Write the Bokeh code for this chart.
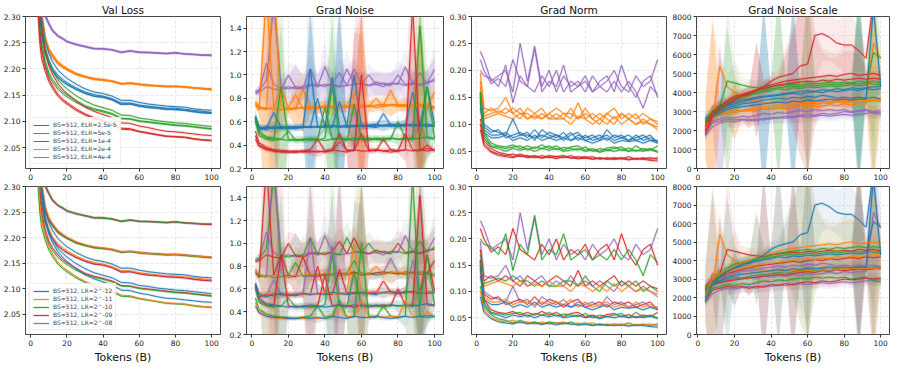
from bokeh.plotting import figure
from bokeh.layouts import column, row
from bokeh.models import FixedTicker, PrintfTickFormatter, Range1d, Legend, LegendItem, Title
from bokeh.embed import file_html
from bokeh.resources import INLINE

BLUE, ORANGE, GREEN, RED, PURPLE = "#1f77b4", "#ff7f0e", "#2ca02c", "#d62728", "#9467bd"

TITLES = ["Val Loss", "Grad Noise", "Grad Norm", "Grad Noise Scale"]
ELR_LABELS = ["BS=512, ELR=2.5e-5", "BS=512, ELR=5e-5", "BS=512, ELR=1e-4",
              "BS=512, ELR=2e-4", "BS=512, ELR=4e-4"]
ELR_COLORS = [RED, GREEN, BLUE, ORANGE, PURPLE]
LR_LABELS = ["BS=512, LR=2^-12", "BS=512, LR=2^-11", "BS=512, LR=2^-10",
             "BS=512, LR=2^-09", "BS=512, LR=2^-08"]
LR_COLORS = [BLUE, ORANGE, GREEN, RED, PURPLE]
X_LABEL = "Tokens (B)"

# run -> ELR group / LR group
RUN_ELR = [4, 4, 4, 3, 3, 3, 3, 2, 2, 2, 2, 1, 1, 1, 0, 0, 0]
RUN_LR = [4, 3, 2, 4, 3, 2, 1, 4, 3, 1, 0, 3, 2, 0, 2, 1, 0]

X_TICKS = [0, 20, 40, 60, 80, 100]

# ---------------- Val loss ----------------
X_VL = [3, 4, 5, 6, 8, 10, 12, 15, 18, 20, 25, 30, 35, 40, 45, 50, 55, 60, 65, 70, 75, 80, 85, 90, 95, 100]
VAL_LOSS = [
    [2.60, 2.50, 2.42, 2.37, 2.30, 2.285, 2.272, 2.262, 2.256, 2.252, 2.246, 2.242, 2.238, 2.238, 2.236, 2.231, 2.234, 2.231, 2.231, 2.230, 2.229, 2.230, 2.229, 2.227, 2.226, 2.226],
    [2.60, 2.50, 2.42, 2.37, 2.30, 2.286, 2.273, 2.263, 2.257, 2.252, 2.247, 2.243, 2.239, 2.239, 2.236, 2.232, 2.234, 2.232, 2.231, 2.231, 2.229, 2.231, 2.229, 2.228, 2.226, 2.225],
    [2.60, 2.51, 2.43, 2.38, 2.305, 2.288, 2.275, 2.264, 2.258, 2.253, 2.247, 2.243, 2.239, 2.238, 2.237, 2.232, 2.235, 2.232, 2.232, 2.230, 2.230, 2.231, 2.228, 2.228, 2.227, 2.227],
    [2.55, 2.42, 2.34, 2.30, 2.255, 2.236, 2.226, 2.212, 2.204, 2.200, 2.191, 2.185, 2.181, 2.179, 2.177, 2.172, 2.173, 2.171, 2.169, 2.168, 2.167, 2.167, 2.166, 2.164, 2.163, 2.161],
    [2.55, 2.42, 2.34, 2.30, 2.254, 2.235, 2.225, 2.211, 2.203, 2.199, 2.190, 2.185, 2.180, 2.179, 2.176, 2.171, 2.173, 2.170, 2.169, 2.168, 2.166, 2.167, 2.165, 2.164, 2.162, 2.161],
    [2.54, 2.41, 2.33, 2.29, 2.250, 2.232, 2.222, 2.209, 2.202, 2.198, 2.189, 2.184, 2.180, 2.178, 2.176, 2.171, 2.172, 2.170, 2.168, 2.167, 2.166, 2.166, 2.165, 2.163, 2.162, 2.160],
    [2.58, 2.45, 2.36, 2.31, 2.262, 2.240, 2.228, 2.214, 2.206, 2.201, 2.192, 2.186, 2.182, 2.180, 2.177, 2.172, 2.173, 2.171, 2.169, 2.168, 2.167, 2.167, 2.166, 2.164, 2.163, 2.162],
    [2.49, 2.37, 2.30, 2.265, 2.230, 2.211, 2.197, 2.183, 2.175, 2.170, 2.161, 2.153, 2.148, 2.146, 2.141, 2.133, 2.133, 2.129, 2.127, 2.125, 2.123, 2.123, 2.121, 2.119, 2.117, 2.116],
    [2.49, 2.37, 2.30, 2.266, 2.231, 2.212, 2.198, 2.184, 2.175, 2.171, 2.161, 2.154, 2.148, 2.146, 2.141, 2.132, 2.133, 2.129, 2.126, 2.125, 2.123, 2.122, 2.121, 2.118, 2.116, 2.115],
    [2.51, 2.39, 2.32, 2.275, 2.238, 2.217, 2.202, 2.188, 2.179, 2.174, 2.164, 2.156, 2.151, 2.148, 2.143, 2.135, 2.135, 2.131, 2.129, 2.127, 2.125, 2.125, 2.123, 2.121, 2.119, 2.117],
    [2.55, 2.43, 2.35, 2.30, 2.255, 2.230, 2.214, 2.198, 2.188, 2.182, 2.171, 2.162, 2.156, 2.153, 2.148, 2.140, 2.140, 2.136, 2.133, 2.131, 2.129, 2.128, 2.127, 2.124, 2.122, 2.121],
    [2.47, 2.34, 2.28, 2.25, 2.215, 2.193, 2.180, 2.166, 2.156, 2.151, 2.140, 2.130, 2.124, 2.120, 2.115, 2.106, 2.105, 2.101, 2.099, 2.097, 2.095, 2.093, 2.092, 2.090, 2.088, 2.086],
    [2.46, 2.33, 2.27, 2.24, 2.208, 2.188, 2.175, 2.161, 2.152, 2.147, 2.136, 2.128, 2.122, 2.118, 2.113, 2.105, 2.104, 2.100, 2.098, 2.096, 2.094, 2.092, 2.091, 2.089, 2.087, 2.085],
    [2.52, 2.40, 2.33, 2.29, 2.240, 2.213, 2.196, 2.179, 2.168, 2.162, 2.149, 2.139, 2.131, 2.126, 2.121, 2.112, 2.111, 2.106, 2.104, 2.101, 2.099, 2.097, 2.096, 2.094, 2.092, 2.090],
    [2.44, 2.31, 2.25, 2.22, 2.195, 2.176, 2.163, 2.148, 2.138, 2.133, 2.121, 2.112, 2.105, 2.100, 2.094, 2.085, 2.084, 2.080, 2.077, 2.074, 2.071, 2.070, 2.069, 2.066, 2.064, 2.063],
    [2.46, 2.33, 2.27, 2.235, 2.203, 2.182, 2.168, 2.152, 2.141, 2.136, 2.124, 2.114, 2.107, 2.102, 2.096, 2.087, 2.086, 2.081, 2.078, 2.075, 2.072, 2.071, 2.070, 2.067, 2.065, 2.064],
    [2.52, 2.39, 2.32, 2.28, 2.232, 2.206, 2.190, 2.172, 2.160, 2.153, 2.139, 2.127, 2.119, 2.113, 2.107, 2.097, 2.096, 2.091, 2.088, 2.084, 2.081, 2.080, 2.078, 2.076, 2.074, 2.073],
]

# ---------------- Grad noise / grad norm ----------------
X_G = [2, 4, 8, 12, 16, 20, 24, 28, 32, 36, 40, 44, 48, 52, 56, 60, 64, 68, 72, 76, 80, 84, 88, 92, 96, 100]
GRAD_NOISE = [
    [0.85, 0.86, 1.10, 0.92, 0.88, 0.90, 0.88, 0.90, 0.92, 0.90, 1.07, 0.92, 0.90, 0.91, 0.92, 0.93, 0.91, 0.92, 0.90, 0.93, 0.92, 1.07, 0.93, 0.92, 0.93, 1.05],
    [0.84, 0.85, 0.90, 0.88, 0.87, 1.00, 0.89, 0.88, 0.91, 0.92, 0.90, 0.93, 1.02, 0.91, 1.05, 0.92, 0.91, 0.94, 0.92, 0.91, 1.00, 0.92, 0.93, 0.91, 0.94, 0.95],
    [0.86, 0.87, 0.95, 1.60, 0.89, 0.88, 0.90, 0.89, 1.05, 0.90, 0.92, 0.91, 0.90, 1.05, 0.93, 0.92, 1.00, 0.92, 0.93, 0.92, 0.93, 0.91, 0.92, 1.02, 0.92, 0.97],
    [0.77, 0.72, 0.70, 1.80, 0.74, 0.70, 0.71, 0.72, 0.71, 0.72, 0.72, 0.73, 0.73, 0.72, 0.74, 0.74, 0.73, 0.74, 0.74, 0.87, 0.74, 0.73, 0.74, 0.75, 0.74, 0.73],
    [0.74, 0.70, 1.70, 0.72, 0.90, 0.72, 0.71, 0.88, 0.72, 0.71, 0.73, 0.72, 0.74, 0.73, 0.75, 0.72, 0.73, 0.74, 0.75, 0.74, 0.73, 0.75, 0.74, 0.73, 0.74, 0.85],
    [0.75, 0.71, 0.72, 0.70, 0.71, 0.72, 0.83, 0.71, 0.72, 0.73, 0.72, 0.73, 0.72, 0.74, 0.85, 0.73, 0.74, 0.72, 0.73, 0.75, 0.74, 0.73, 0.75, 0.74, 0.73, 0.72],
    [0.76, 0.73, 0.71, 0.72, 0.70, 0.71, 0.72, 0.72, 0.73, 0.72, 0.74, 0.72, 0.73, 0.73, 0.72, 0.74, 0.73, 0.80, 0.73, 0.74, 0.75, 0.74, 0.73, 0.74, 0.72, 0.71],
    [0.64, 0.56, 0.54, 0.68, 0.55, 0.55, 0.56, 0.55, 1.05, 0.56, 0.55, 0.98, 0.56, 0.57, 0.56, 0.57, 0.56, 0.57, 0.57, 0.56, 0.57, 0.56, 0.85, 0.57, 0.58, 0.57],
    [0.62, 0.53, 0.55, 0.54, 0.56, 0.55, 0.54, 0.56, 0.55, 0.80, 0.56, 0.55, 0.77, 0.56, 0.57, 0.56, 0.57, 0.56, 0.67, 0.57, 0.56, 0.58, 0.57, 0.56, 0.90, 0.58],
    [0.63, 0.54, 0.56, 0.55, 0.54, 0.56, 0.55, 0.55, 0.56, 0.55, 0.57, 0.56, 0.55, 0.57, 1.00, 0.56, 0.57, 0.58, 0.56, 0.57, 0.58, 0.57, 0.56, 0.58, 0.57, 0.56],
    [0.65, 0.55, 0.53, 0.56, 0.55, 0.54, 0.55, 0.56, 0.55, 0.56, 0.55, 0.57, 0.56, 0.55, 0.56, 0.57, 0.56, 0.55, 0.57, 0.58, 0.56, 0.57, 0.58, 0.57, 0.56, 0.57],
    [0.62, 0.50, 0.46, 0.45, 0.90, 0.45, 0.44, 0.45, 0.44, 0.45, 0.72, 0.45, 0.46, 0.45, 0.44, 0.46, 0.45, 0.45, 0.46, 0.45, 0.60, 0.46, 0.45, 1.42, 0.46, 0.45],
    [0.60, 0.48, 0.45, 0.44, 0.45, 0.52, 0.44, 0.45, 0.45, 0.44, 0.46, 0.90, 0.45, 0.44, 0.75, 0.45, 0.46, 0.45, 0.44, 0.46, 0.45, 0.45, 0.46, 0.45, 0.90, 0.46],
    [0.64, 0.52, 0.47, 0.46, 0.45, 0.44, 0.45, 0.44, 0.46, 0.45, 0.44, 0.45, 0.46, 0.45, 0.46, 0.45, 0.44, 0.46, 0.45, 0.46, 0.45, 0.46, 0.45, 0.46, 0.47, 0.46],
    [0.52, 0.42, 0.38, 0.36, 0.35, 0.35, 0.34, 0.35, 0.36, 0.45, 0.35, 0.36, 0.50, 0.35, 0.36, 1.00, 0.36, 0.35, 0.45, 0.36, 0.35, 0.36, 1.60, 0.36, 0.37, 0.36],
    [0.48, 0.40, 0.37, 0.35, 0.34, 0.34, 0.35, 0.34, 0.35, 0.34, 0.35, 0.35, 0.43, 0.36, 0.35, 0.50, 0.35, 0.36, 0.35, 0.36, 0.35, 0.50, 0.36, 0.35, 0.40, 0.35],
    [0.45, 0.39, 0.36, 0.35, 0.35, 0.34, 0.34, 0.35, 0.34, 0.35, 0.34, 0.36, 0.35, 0.34, 0.36, 0.35, 0.35, 0.36, 0.35, 0.34, 0.35, 0.36, 0.35, 0.36, 0.35, 0.36],
]
# band half-widths per ELR group (red, green, blue, orange, purple)
GRAD_NOISE_SPREAD = [
    [0.05, 0.03, 0.02, 0.02, 0.02, 0.02, 0.02, 0.02, 0.03, 0.05, 0.02, 0.03, 0.05, 0.03, 1.0, 1.0, 0.03, 0.02, 0.03, 0.02, 0.02, 0.1, 1.2, 0.3, 0.05, 0.02],
    [0.05, 0.03, 0.03, 0.03, 1.0, 0.03, 0.03, 0.03, 0.03, 0.03, 0.1, 1.0, 0.03, 0.03, 0.1, 0.03, 0.03, 0.03, 0.03, 0.03, 0.05, 0.03, 0.03, 1.2, 0.2, 0.03],
    [0.05, 0.03, 0.03, 0.05, 0.03, 0.03, 0.03, 0.03, 1.0, 0.1, 0.03, 0.1, 1.0, 0.03, 0.2, 0.03, 0.03, 0.03, 0.05, 0.03, 0.03, 0.05, 0.15, 0.03, 0.2, 0.03],
    [0.05, 0.05, 1.2, 1.2, 0.15, 0.05, 0.15, 0.2, 0.05, 0.05, 0.05, 0.08, 0.05, 0.05, 0.1, 0.8, 0.05, 0.05, 0.05, 0.1, 0.05, 0.05, 0.05, 0.8, 0.05, 0.15],
    [0.03, 0.05, 0.15, 1.0, 0.08, 0.1, 0.2, 0.1, 0.15, 0.1, 0.2, 0.1, 0.12, 0.15, 0.1, 0.1, 0.1, 0.1, 0.1, 0.1, 0.12, 0.15, 0.1, 0.1, 0.1, 0.2],
]

GRAD_NORM = [
    [0.235, 0.22, 0.18, 0.19, 0.20, 0.16, 0.25, 0.18, 0.24, 0.17, 0.20, 0.16, 0.19, 0.17, 0.18, 0.16, 0.19, 0.17, 0.18, 0.20, 0.17, 0.16, 0.19, 0.17, 0.18, 0.22],
    [0.22, 0.20, 0.175, 0.185, 0.17, 0.22, 0.18, 0.17, 0.16, 0.19, 0.17, 0.20, 0.16, 0.18, 0.17, 0.19, 0.16, 0.18, 0.19, 0.16, 0.21, 0.17, 0.15, 0.18, 0.19, 0.15],
    [0.20, 0.19, 0.185, 0.17, 0.21, 0.14, 0.19, 0.17, 0.245, 0.16, 0.18, 0.17, 0.21, 0.16, 0.17, 0.18, 0.16, 0.17, 0.16, 0.18, 0.16, 0.18, 0.16, 0.13, 0.17, 0.155],
    [0.195, 0.13, 0.125, 0.13, 0.15, 0.12, 0.13, 0.11, 0.12, 0.13, 0.11, 0.12, 0.11, 0.13, 0.11, 0.12, 0.11, 0.12, 0.11, 0.10, 0.12, 0.11, 0.10, 0.11, 0.10, 0.09],
    [0.18, 0.12, 0.13, 0.12, 0.13, 0.12, 0.11, 0.13, 0.12, 0.11, 0.12, 0.13, 0.12, 0.11, 0.14, 0.11, 0.12, 0.11, 0.12, 0.13, 0.11, 0.12, 0.11, 0.12, 0.11, 0.105],
    [0.17, 0.115, 0.12, 0.125, 0.12, 0.13, 0.12, 0.12, 0.11, 0.12, 0.11, 0.11, 0.12, 0.12, 0.11, 0.13, 0.11, 0.10, 0.12, 0.11, 0.12, 0.11, 0.12, 0.10, 0.11, 0.10],
    [0.16, 0.11, 0.115, 0.12, 0.115, 0.11, 0.12, 0.11, 0.115, 0.11, 0.12, 0.11, 0.11, 0.10, 0.115, 0.11, 0.10, 0.11, 0.10, 0.115, 0.10, 0.11, 0.10, 0.105, 0.10, 0.095],
    [0.16, 0.10, 0.09, 0.085, 0.08, 0.11, 0.08, 0.085, 0.07, 0.09, 0.08, 0.075, 0.085, 0.07, 0.08, 0.075, 0.08, 0.07, 0.09, 0.075, 0.08, 0.07, 0.075, 0.08, 0.07, 0.07],
    [0.15, 0.095, 0.085, 0.09, 0.075, 0.08, 0.085, 0.075, 0.09, 0.075, 0.085, 0.08, 0.07, 0.08, 0.085, 0.07, 0.075, 0.08, 0.07, 0.08, 0.075, 0.08, 0.07, 0.075, 0.08, 0.065],
    [0.14, 0.09, 0.08, 0.08, 0.085, 0.075, 0.08, 0.08, 0.075, 0.08, 0.075, 0.08, 0.075, 0.085, 0.07, 0.08, 0.07, 0.075, 0.08, 0.07, 0.075, 0.07, 0.08, 0.07, 0.075, 0.068],
    [0.13, 0.085, 0.075, 0.075, 0.08, 0.07, 0.075, 0.07, 0.08, 0.07, 0.075, 0.07, 0.075, 0.07, 0.075, 0.07, 0.065, 0.07, 0.075, 0.065, 0.07, 0.068, 0.07, 0.065, 0.07, 0.065],
    [0.16, 0.085, 0.065, 0.06, 0.058, 0.062, 0.055, 0.06, 0.055, 0.062, 0.055, 0.06, 0.052, 0.058, 0.06, 0.052, 0.055, 0.05, 0.056, 0.058, 0.052, 0.056, 0.05, 0.055, 0.052, 0.06],
    [0.155, 0.08, 0.06, 0.058, 0.055, 0.058, 0.06, 0.052, 0.058, 0.055, 0.06, 0.053, 0.057, 0.055, 0.052, 0.058, 0.05, 0.055, 0.052, 0.055, 0.058, 0.05, 0.06, 0.052, 0.055, 0.05],
    [0.145, 0.075, 0.058, 0.055, 0.05, 0.055, 0.052, 0.055, 0.05, 0.055, 0.052, 0.055, 0.05, 0.052, 0.055, 0.05, 0.052, 0.048, 0.052, 0.05, 0.053, 0.05, 0.052, 0.05, 0.053, 0.048],
    [0.11, 0.07, 0.055, 0.048, 0.045, 0.04, 0.045, 0.04, 0.042, 0.038, 0.042, 0.04, 0.038, 0.042, 0.037, 0.04, 0.036, 0.038, 0.035, 0.038, 0.036, 0.04, 0.035, 0.038, 0.035, 0.038],
    [0.10, 0.065, 0.05, 0.045, 0.042, 0.045, 0.04, 0.042, 0.038, 0.042, 0.038, 0.04, 0.042, 0.037, 0.04, 0.038, 0.04, 0.035, 0.038, 0.036, 0.038, 0.035, 0.037, 0.036, 0.038, 0.035],
    [0.09, 0.06, 0.048, 0.042, 0.04, 0.038, 0.042, 0.038, 0.04, 0.037, 0.04, 0.036, 0.04, 0.038, 0.036, 0.037, 0.035, 0.037, 0.036, 0.035, 0.036, 0.034, 0.036, 0.035, 0.033, 0.032],
]

# ---------------- Grad noise scale ----------------
X_GNS = [4, 8, 12, 16, 20, 24, 28, 32, 36, 40, 44, 48, 52, 56, 60, 64, 68, 72, 76, 80, 84, 88, 92, 96, 100]
GNS = [
    [1700, 2200, 2400, 2500, 2450, 2550, 2600, 2500, 2650, 2600, 2700, 2650, 2700, 2750, 2700, 2750, 2800, 2750, 2800, 2850, 2800, 2850, 2900, 2950, 2950],
    [1800, 2400, 2500, 2600, 2550, 2600, 2500, 2600, 2550, 2700, 2650, 2750, 2700, 2800, 2850, 2800, 2900, 2850, 2900, 3000, 2950, 3000, 3050, 3000, 3050],
    [1900, 2500, 2600, 2700, 2650, 2750, 2700, 2800, 2900, 2850, 2950, 2900, 3000, 3050, 3000, 3100, 3050, 3100, 3050, 3100, 3000, 3050, 3100, 2900, 2850],
    [2000, 3300, 3000, 2900, 3000, 3050, 3100, 3050, 3150, 3100, 3200, 3150, 3250, 3200, 3300, 3250, 3300, 3350, 3300, 3400, 3350, 3400, 3400, 6600, 5800],
    [2200, 2700, 2800, 2900, 2950, 3000, 3050, 3100, 3150, 3200, 3250, 3200, 3300, 3350, 3400, 3350, 3450, 3400, 3500, 3450, 3500, 3550, 3500, 3550, 3600],
    [2300, 2800, 2900, 3000, 3100, 3050, 3150, 3200, 3250, 3300, 3350, 3300, 3400, 3450, 3500, 3450, 3550, 3500, 3600, 3550, 3600, 3650, 3600, 3650, 3700],
    [2100, 2600, 5400, 4300, 4000, 3800, 3700, 3600, 3500, 3450, 3500, 3400, 3450, 3500, 3450, 3500, 3550, 3500, 3550, 3600, 3550, 3600, 3550, 3600, 3500],
    [2500, 2800, 3000, 3200, 3300, 3400, 3450, 3500, 3600, 3650, 3700, 3650, 3750, 3700, 3800, 3750, 3850, 3800, 3700, 3750, 3700, 3750, 3700, 3750, 3650],
    [2400, 2900, 3100, 3300, 3400, 3500, 3600, 3700, 3750, 3800, 3850, 3900, 3950, 3900, 4000, 4050, 4000, 4100, 4050, 4100, 4150, 4100, 4200, 4150, 4200],
    [2600, 3000, 3200, 3350, 3500, 3600, 3650, 3750, 3800, 3850, 3900, 3950, 4000, 4050, 4100, 4050, 4150, 4100, 4200, 4150, 4250, 4200, 4250, 4300, 4300],
    [2300, 2700, 2900, 3100, 3200, 3250, 3300, 3350, 3400, 3450, 3500, 3450, 3550, 3500, 3600, 3550, 3600, 3650, 3600, 3650, 3600, 3650, 3650, 8500, 4300],
    [2600, 3000, 3300, 4600, 4500, 4400, 4300, 4250, 4200, 4300, 4350, 4400, 4450, 4400, 4500, 4450, 4500, 4550, 4500, 4550, 4500, 4600, 4550, 4600, 4500],
    [2500, 2900, 3200, 3500, 3700, 3800, 3900, 4000, 4100, 4200, 4250, 4300, 4350, 4300, 4400, 4350, 4400, 4450, 4400, 4450, 4500, 4450, 4500, 4450, 4400],
    [2400, 2800, 3100, 3400, 3600, 3700, 3850, 3950, 4050, 4100, 4200, 4150, 4250, 4200, 4300, 4250, 4300, 4350, 4300, 4350, 4400, 4350, 4400, 6100, 5800],
    [2000, 2800, 3200, 3600, 3800, 3900, 4000, 4100, 4200, 4300, 4400, 4450, 4500, 4550, 4600, 4550, 4650, 4600, 4700, 4650, 4700, 4750, 4700, 4750, 4700],
    [2200, 3000, 3300, 3500, 3700, 3850, 4000, 4150, 4300, 4400, 4500, 4600, 4650, 4700, 4750, 4800, 4850, 4900, 4850, 4950, 5000, 4900, 4950, 5000, 4900],
    [1800, 2700, 3100, 3400, 3600, 3800, 3900, 4100, 4300, 4600, 4800, 4900, 5000, 5400, 5500, 7000, 7100, 6900, 6600, 6500, 6500, 6200, 5800, 8800, 8800],
]
GNS_SPREAD = [
    [300, 300, 300, 300, 300, 300, 300, 2500, 400, 400, 400, 1500, 2500, 4000, 5000, 2500, 1500, 1200, 1200, 1500, 1500, 1200, 500, 400, 400],
    [300, 300, 400, 4000, 1200, 400, 400, 400, 400, 400, 5000, 400, 400, 400, 5000, 400, 400, 400, 400, 400, 400, 5000, 400, 5000, 600],
    [300, 400, 400, 400, 400, 400, 400, 400, 5000, 400, 400, 400, 5000, 400, 600, 400, 400, 400, 400, 400, 400, 5000, 400, 500, 400],
    [1500, 5000, 600, 500, 1500, 500, 1000, 400, 400, 400, 400, 400, 400, 400, 400, 400, 400, 400, 400, 400, 400, 400, 400, 5000, 800],
    [300, 300, 4000, 400, 300, 300, 300, 300, 300, 300, 300, 300, 300, 400, 300, 300, 300, 300, 300, 300, 300, 300, 300, 300, 300],
]

PANELS = [
    dict(x=X_VL, ys=VAL_LOSS, spread=None, yr=(2.01, 2.30), xr=(-2.9, 104.9),
         yticks=[2.05, 2.10, 2.15, 2.20, 2.25, 2.30], fmt="%.2f"),
    dict(x=X_G, ys=GRAD_NOISE, spread=GRAD_NOISE_SPREAD, yr=(0.2, 1.5), xr=(-2.9, 104.9),
         yticks=[0.2, 0.4, 0.6, 0.8, 1.0, 1.2, 1.4], fmt="%.1f", alpha=0.10),
    dict(x=X_G, ys=GRAD_NORM, spread=None, yr=(0.018, 0.30), xr=(-2.9, 104.9),
         yticks=[0.05, 0.10, 0.15, 0.20, 0.25, 0.30], fmt="%.2f"),
    dict(x=X_GNS, ys=GNS, spread=GNS_SPREAD, yr=(0, 8000), xr=(-0.8, 104.8),
         yticks=[0, 1000, 2000, 3000, 4000, 5000, 6000, 7000, 8000], fmt="%d", alpha=0.09),
]

for pn in PANELS:
    for y in pn["ys"]:
        assert len(y) == len(pn["x"]), (len(y), len(pn["x"]))
    if pn["spread"]:
        for s in pn["spread"]:
            assert len(s) == len(pn["x"])

WIDTHS = [223, 223, 223, 228]
RIGHT = [3, 3, 3, 8]
FONT = "DejaVu Sans"


def make_fig(r, c):
    pn = PANELS[c]
    bottom = r == 1
    p = figure(width=WIDTHS[c], height=181 if bottom else 182,
               x_range=Range1d(*pn["xr"]), y_range=Range1d(*pn["yr"]),
               output_backend="svg", toolbar_location=None,
               min_border_left=23, min_border_right=RIGHT[c],
               min_border_top=4 if bottom else 0, min_border_bottom=0)
    if not bottom:
        p.title.text = TITLES[c]
        p.title.text_font = FONT
        p.title.text_font_size = "10.5px"
        p.title.text_font_style = "normal"
        p.title.align = "center"
        p.title.standoff = 2
        p.title.text_color = "#111111"
    p.background_fill_color = "white"
    p.border_fill_color = "white"
    p.outline_line_color = "#333333"
    p.outline_line_width = 0.9
    for ax in (p.xaxis[0], p.yaxis[0]):
        ax.axis_line_color = None
        ax.major_tick_line_color = "#333333"
        ax.major_tick_out = 3
        ax.major_tick_in = 0
        ax.minor_tick_line_color = None
        ax.major_label_text_font = FONT
        ax.major_label_text_font_size = "7.5px"
        ax.major_label_text_color = "#222222"
        ax.major_label_standoff = 2
        ax.axis_label = None
    p.xaxis.ticker = FixedTicker(ticks=X_TICKS)
    p.yaxis.ticker = FixedTicker(ticks=pn["yticks"])
    p.yaxis.formatter = PrintfTickFormatter(format=pn["fmt"])
    p.grid.grid_line_color = "#dcdcdc"
    p.grid.grid_line_dash = "3 2"
    p.grid.grid_line_width = 0.7
    if bottom:
        t = Title(text=X_LABEL, align="center", text_font=FONT, text_font_size="11px",
                  text_font_style="normal", text_color="#111111", standoff=0, offset=0)
        p.add_layout(t, "below")

    colors = LR_COLORS if bottom else ELR_COLORS
    groups = RUN_LR if bottom else RUN_ELR
    x = pn["x"]
    wide = {}
    for i, y in enumerate(pn["ys"]):
        col = colors[groups[i]]
        if pn["spread"]:
            s = pn["spread"][RUN_ELR[i]]
            lo = [a - b for a, b in zip(y, s)]
            hi = [a + b for a, b in zip(y, s)]
            p.varea(x=x, y1=lo, y2=hi, fill_color=col, fill_alpha=pn["alpha"])
        wide[i] = p.line(x, y, line_color=col, line_width=2.6, line_alpha=0.18)
    thin = {}
    for i, y in enumerate(pn["ys"]):
        col = colors[groups[i]]
        thin[i] = p.line(x, y, line_color=col, line_width=0.95)

    if c == 0:
        labels = LR_LABELS if bottom else ELR_LABELS
        items = []
        for g in range(5):
            i = groups.index(g)
            rends = [wide[i], thin[i]] if bottom else [thin[i]]
            items.append(LegendItem(label=labels[g], renderers=rends))
        leg = Legend(items=items, location="bottom_left",
                     label_text_font=FONT, label_text_font_size="6px",
                     glyph_width=16, glyph_height=6, label_height=6,
                     spacing=1, padding=3, margin=4,
                     background_fill_alpha=0.85, border_line_color="#dddddd",
                     label_standoff=4)
        p.add_layout(leg)
    return p


rows = []
for r in range(2):
    rows.append(row(*[make_fig(r, c) for c in range(4)]))
layout = column(*rows)

open("out.html", "w").write(file_html(layout, INLINE))
